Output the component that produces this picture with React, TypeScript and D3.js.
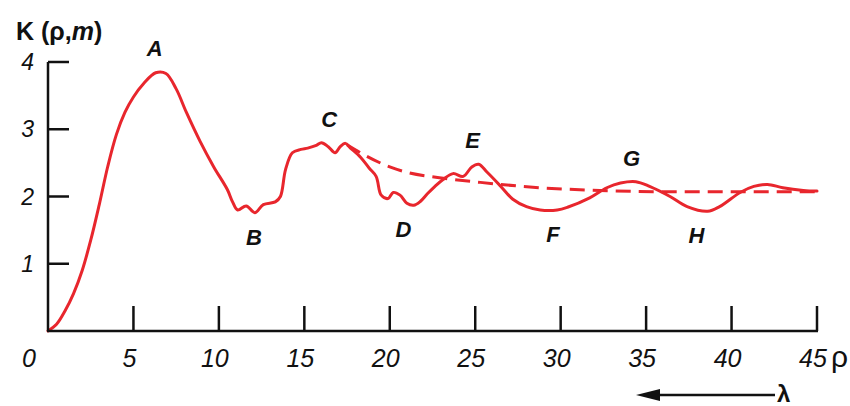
import React from "react";
import * as d3 from "d3";

// Measured curve K(ρ, m): [ρ, K]
const solidRho = [0, 0.5, 1.0, 1.5, 2.0, 2.5, 3.0, 3.5, 4.0, 4.5, 5.0, 5.6, 6.3, 6.9, 7.5, 8.1, 8.9, 9.7, 10.5, 10.8, 11.1, 11.6, 12.1, 12.6, 13.3, 13.6, 13.9, 14.3, 14.8, 15.2, 15.7, 16.0, 16.4, 16.8, 17.1, 17.4, 17.7, 18.3, 18.8, 19.2, 19.5, 19.9, 20.2, 20.6, 21.0, 21.4, 21.8, 22.2, 22.6, 23.1, 23.7, 24.3, 24.8, 25.2, 25.7, 26.5, 27.2, 28.0, 28.8, 29.8, 30.4, 31.7, 32.7, 33.5, 34.4, 35.2, 36.4, 37.4, 38.6, 39.3, 40.5, 41.3, 42.1, 43.0, 44.2, 45];
const solidK = [0, 0.1, 0.3, 0.56, 0.9, 1.35, 1.88, 2.45, 2.92, 3.25, 3.48, 3.68, 3.84, 3.83, 3.6, 3.25, 2.82, 2.44, 2.1, 1.92, 1.8, 1.86, 1.76, 1.88, 1.92, 2.0, 2.4, 2.65, 2.7, 2.72, 2.76, 2.8, 2.74, 2.65, 2.74, 2.79, 2.72, 2.58, 2.42, 2.3, 2.02, 1.97, 2.06, 2.02, 1.9, 1.87, 1.93, 2.04, 2.14, 2.25, 2.34, 2.3, 2.44, 2.48, 2.36, 2.15, 1.96, 1.85, 1.8, 1.8, 1.84, 1.98, 2.13, 2.2, 2.22, 2.15, 2.0, 1.85, 1.78, 1.85, 2.06, 2.15, 2.18, 2.13, 2.09, 2.08];

// Smoothed trend (dashed)
const dashRho = [17.5, 18.5, 20.0, 21.0, 22.9, 25.3, 28.8, 32.3, 36.6, 40.5, 45];
const dashK = [2.77, 2.62, 2.44, 2.36, 2.28, 2.21, 2.13, 2.09, 2.07, 2.07, 2.07];

const xTicks = [5, 10, 15, 20, 25, 30, 35, 40, 45];
const xTickLabels = ["0", "5", "10", "15", "20", "25", "30", "35", "40", "45"];
const yTicks = [1, 2, 3, 4];

// Named extrema along the curve: [label, ρ, K]
const pointNames = ["A", "B", "C", "D", "E", "F", "G", "H"];
const pointRho = [6.25, 12.05, 16.45, 20.8, 24.85, 29.55, 34.15, 37.95];
const pointK = [3.85, 1.76, 2.8, 1.87, 2.48, 1.8, 2.22, 1.78];
const labelAbove = [true, false, true, false, true, false, true, false];

const RED = "#e8262d";

export default function App() {
  const W = 850;
  const H = 406;
  const x = d3.scaleLinear().domain([0, 45]).range([48, 817]);
  const y = d3.scaleLinear().domain([0, 4]).range([331, 62]);

  const line = d3
    .line<number>()
    .x((_, i) => x(solidRho[i]))
    .y((d) => y(d))
    .curve(d3.curveCatmullRom.alpha(0.5));
  const dashLine = d3
    .line<number>()
    .x((_, i) => x(dashRho[i]))
    .y((d) => y(d))
    .curve(d3.curveMonotoneX);

  const font = "'Liberation Sans', Arial, sans-serif";

  return (
    <svg
      width={W}
      height={H}
      style={{ position: "absolute", left: 0, top: 0, background: "#fff" }}
    >
      {/* curves */}
      <path d={dashLine(dashK) || ""} fill="none" stroke={RED} strokeWidth={3} strokeDasharray="15 8" />
      <path d={line(solidK) || ""} fill="none" stroke={RED} strokeWidth={3} strokeLinejoin="round" strokeLinecap="round" />

      {/* axes */}
      <line x1={x(0)} x2={x(0)} y1={y(4)} y2={y(0)} stroke="#111" strokeWidth={2.5} />
      <line x1={x(0) - 1} x2={x(45) + 1} y1={y(0)} y2={y(0)} stroke="#111" strokeWidth={2.5} />
      {yTicks.map((t) => (
        <g key={"y" + t}>
          <line x1={x(0)} x2={x(0) + 21} y1={y(t)} y2={y(t)} stroke="#111" strokeWidth={2.5} />
          <text
            x={34}
            y={y(t) + 8}
            textAnchor="end"
            fontFamily={font}
            fontStyle="italic"
            fontSize={23}
            fill="#111"
          >
            {t}
          </text>
        </g>
      ))}
      {xTicks.map((t) => (
        <line key={"x" + t} x1={x(t)} x2={x(t)} y1={y(0)} y2={y(0) - 25} stroke="#111" strokeWidth={2.5} />
      ))}
      {xTickLabels.map((s, i) => (
        <text
          key={"xl" + s}
          x={i === 0 ? 29 : x(i * 5) - 4}
          y={367}
          textAnchor="middle"
          fontFamily={font}
          fontStyle="italic"
          fontSize={25}
          fill="#111"
        >
          {s}
        </text>
      ))}

      {/* axis titles */}
      <text x={16} y={40} fontFamily={font} fontSize={25} fontWeight={600} fill="#111">
        K (ρ,<tspan fontStyle="italic">m</tspan>)
      </text>
      <text x={831} y={367} fontFamily={font} fontSize={30} fill="#111">
        ρ
      </text>

      {/* λ direction arrow */}
      <line x1={650} x2={775} y1={395} y2={395} stroke="#111" strokeWidth={2.5} />
      <path d="M636,395 L660,389 L660,401 Z" fill="#111" />
      <text x={777} y={402} fontFamily={font} fontSize={24} fontWeight={600} fill="#111">
        λ
      </text>

      {/* extremum labels */}
      {pointNames.map((n, i) => (
        <text
          key={n}
          x={x(pointRho[i])}
          y={labelAbove[i] ? y(pointK[i]) - 16 : y(pointK[i]) + 32}
          textAnchor="middle"
          fontFamily={font}
          fontStyle="italic"
          fontWeight="bold"
          fontSize={22}
          fill="#111"
        >
          {n}
        </text>
      ))}
    </svg>
  );
}
